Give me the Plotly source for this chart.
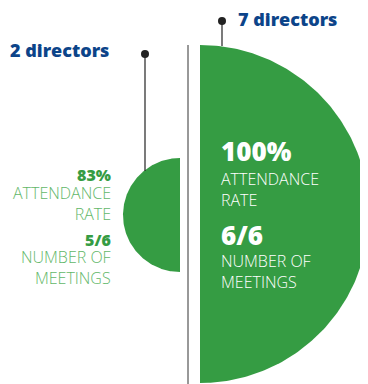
import numpy as np
import plotly.graph_objects as go

# data
groups = ["2 directors", "7 directors"]
directors = [2, 7]
attendance = ["83%", "100%"]
meetings = ["5/6", "6/6"]
att_label = "ATTENDANCE<br>RATE"
meet_label = "NUMBER OF<br>MEETINGS"

GREEN = "#359c43"
LIGHT_GREEN = "#62b769"
BLUE = "#0c4489"

# layout in pixel-like axis units (y runs downwards)
centers = [(180, 215), (200, 214)]
radius = {2: 57, 7: 169}
sides = ["left", "right"]

fig = go.Figure()

# half circles
for d, (cx, cy), side in zip(directors, centers, sides):
    r = radius[d]
    if side == "left":
        t = np.linspace(np.pi / 2, 3 * np.pi / 2, 200)
    else:
        t = np.linspace(-np.pi / 2, np.pi / 2, 200)
    xs = cx + r * np.cos(t)
    ys = cy + r * np.sin(t)
    fig.add_trace(go.Scatter(x=xs, y=ys, fill="toself", fillcolor=GREEN,
                             mode="lines", line=dict(width=0), hoverinfo="skip"))

# divider line
fig.add_trace(go.Scatter(x=[188, 188], y=[45, 390], mode="lines",
                         line=dict(color="#333333", width=1), hoverinfo="skip"))

# pointer lines with dots
pointers = [(145, 54, 171), (222, 21, 46)]
for px_, ytop, ybot in pointers:
    fig.add_trace(go.Scatter(x=[px_, px_], y=[ytop, ybot], mode="lines",
                             line=dict(color="#222222", width=1.2), hoverinfo="skip"))
    fig.add_trace(go.Scatter(x=[px_], y=[ytop], mode="markers",
                             marker=dict(color="#222222", size=8), hoverinfo="skip"))

bold = dict(family="Open Sans, sans-serif", weight=800)
light = dict(family="Open Sans, sans-serif", weight=300)

# group labels
fig.add_annotation(x=111, y=50, text=groups[0], showarrow=False, xanchor="right",
                   yanchor="middle", font=dict(size=18, color=BLUE, **bold))
fig.add_annotation(x=236, y=19, text=groups[1], showarrow=False, xanchor="left",
                   yanchor="middle", font=dict(size=18, color=BLUE, **bold))

# left texts
left_lines = [(attendance[0], 175, True), (att_label, 203, False),
              (meetings[0], 240, True), (meet_label, 267, False)]
for txt, y, b in left_lines:
    fig.add_annotation(x=112, y=y, text=txt, showarrow=False, xanchor="right", yanchor="middle",
                       align="right", borderpad=0,
                       font=dict(size=16, color=GREEN if b else LIGHT_GREEN, **(bold if b else light)))

# right texts
right_lines = [(attendance[1], 151, True), (att_label, 189, False),
               (meetings[1], 235, True), (meet_label, 271, False)]
for txt, y, b in right_lines:
    fig.add_annotation(x=220, y=y, text=txt, showarrow=False, xanchor="left", yanchor="middle",
                       align="left", borderpad=0,
                       font=dict(size=26 if b else 16, color="white", **(bold if b else light)))

# page body has an 8px margin, so the plot starts at screen (8, 8)
fig.update_layout(width=360, height=376, margin=dict(l=0, r=0, t=0, b=0),
                  showlegend=False, plot_bgcolor="white", paper_bgcolor="white",
                  xaxis=dict(range=[8, 368], visible=False, fixedrange=True),
                  yaxis=dict(range=[384, 8], visible=False, fixedrange=True))

fig.write_html("out.html")
